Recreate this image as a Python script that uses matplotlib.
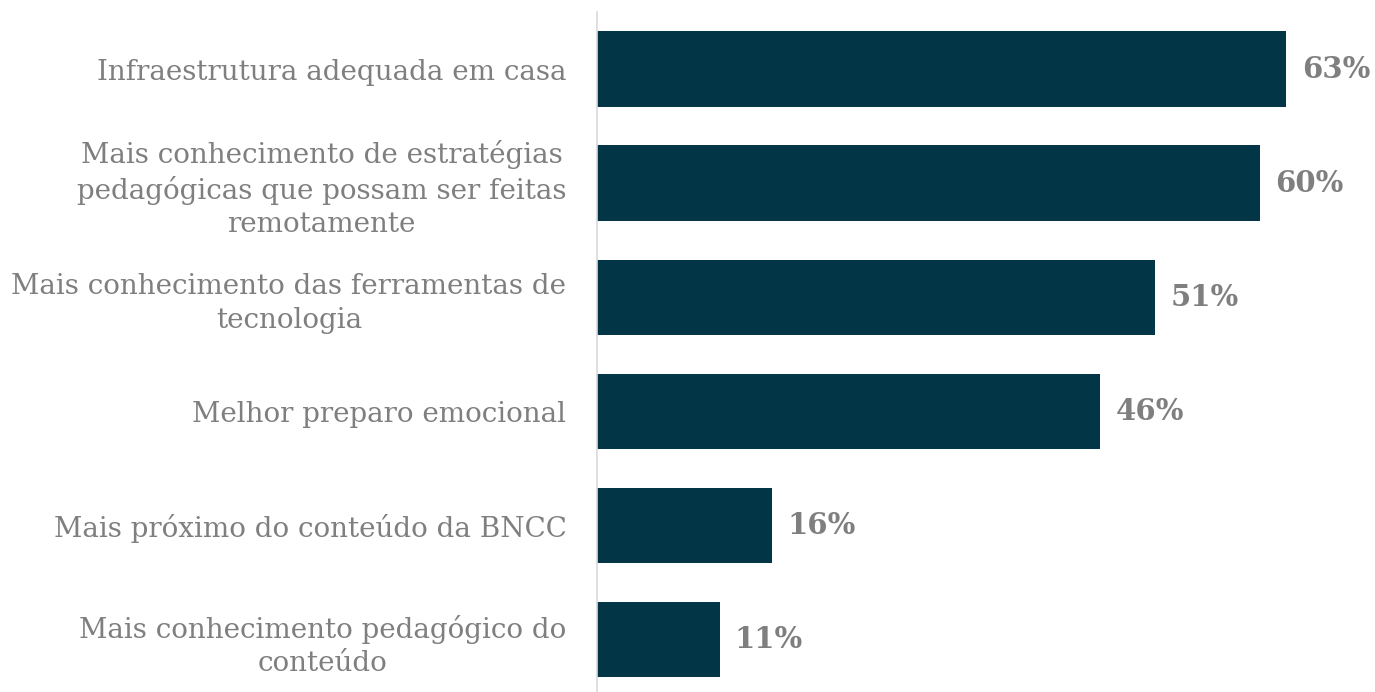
import matplotlib.pyplot as plt

# Horizontal bar chart: what teachers would need for remote teaching.

categories = [
    "Infraestrutura adequada em casa",
    "Mais conhecimento de estratégias\npedagógicas que possam ser feitas\nremotamente",
    "Mais conhecimento das ferramentas de\ntecnologia",
    "Melhor preparo emocional",
    "Mais próximo do conteúdo da BNCC",
    "Mais conhecimento pedagógico do\nconteúdo",
]
values = [63, 60.6, 51, 46, 16, 11.2]
value_labels = ["63%", "60%", "51%", "46%", "16%", "11%"]

bar_color = "#023646"
text_color = "#7f7f7f"

plt.rcParams["font.family"] = ["DejaVu Serif"]

fig = plt.figure(figsize=(13.75, 6.92), dpi=100)
ax = fig.add_axes([597 / 1375, 0, 778 / 1375, 680 / 692])

pos = list(range(len(categories)))
ax.barh(pos, values, height=0.66, color=bar_color)

ax.set_xlim(0, 71.1)
ax.set_ylim(5.46, -0.5)

for y, v, lab in zip(pos, values, value_labels):
    ax.annotate(lab, xy=(v, y), xytext=(11, 0), textcoords="offset points",
                va="center", ha="left", fontsize=21, fontweight="bold",
                color=text_color)

ax.set_yticks(pos)
ax.set_yticklabels(categories, fontsize=20, color=text_color,
                   multialignment="center", linespacing=1.3)
ax.tick_params(axis="y", length=0, pad=22)
ax.set_xticks([])

for side in ("top", "right", "bottom"):
    ax.spines[side].set_visible(False)
ax.spines["left"].set_color("#d9d9d9")
ax.spines["left"].set_linewidth(1.2)

fig.savefig("out.png", dpi=100)
